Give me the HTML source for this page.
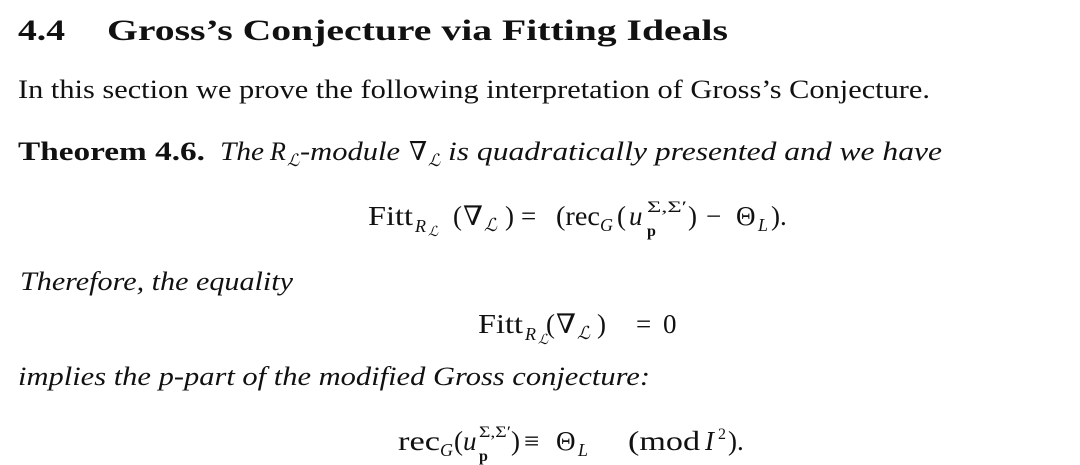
<!DOCTYPE html>
<html><head><meta charset="utf-8"><style>
html,body{margin:0;padding:0;background:#fff;}
svg{display:block;}
text{font-family:"Liberation Serif","DejaVu Serif",serif;fill:#111;}
.b{font-weight:bold;}
.i{font-style:italic;}
</style></head><body>
<svg width="1080" height="465" viewBox="0 0 1080 465" xmlns="http://www.w3.org/2000/svg">
<text x="18" y="40" class="b" font-size="30" textLength="47" lengthAdjust="spacingAndGlyphs">4.4</text>
<text x="107" y="40" class="b" font-size="30" textLength="621" lengthAdjust="spacingAndGlyphs">Gross’s Conjecture via Fitting Ideals</text>

<text x="18" y="98" font-size="26" textLength="912" lengthAdjust="spacingAndGlyphs">In this section we prove the following interpretation of Gross’s Conjecture.</text>

<text x="18" y="160" class="b" font-size="26" textLength="187" lengthAdjust="spacingAndGlyphs">Theorem 4.6.</text>
<text x="220" y="160" class="i" font-size="26" textLength="44" lengthAdjust="spacingAndGlyphs">The</text>
<text x="270" y="160" class="i" font-size="26">R</text>
<text x="287" y="166" class="i" font-size="17">ℒ</text>
<text x="300" y="160" class="i" font-size="26" textLength="100" lengthAdjust="spacingAndGlyphs">-module</text>
<text x="409" y="160" font-size="26">∇</text>
<text x="428" y="166" class="i" font-size="17">ℒ</text>
<text x="448" y="160" class="i" font-size="26" textLength="494" lengthAdjust="spacingAndGlyphs">is quadratically presented and we have</text>

<!-- formula 1 -->
<g font-size="27">
<text x="368" y="225" textLength="45" lengthAdjust="spacingAndGlyphs">Fitt</text>
<text x="415" y="232" class="i" font-size="18">R</text>
<text x="428" y="236" class="i" font-size="14">ℒ</text>
<text x="453" y="225">(</text>
<text x="463" y="225" textLength="20" lengthAdjust="spacingAndGlyphs">∇</text>
<text x="484" y="231" class="i" font-size="18">ℒ</text>
<text x="505" y="225">)</text>
<text x="521" y="225">=</text>
<text x="556" y="225" textLength="44" lengthAdjust="spacingAndGlyphs">(rec</text>
<text x="600" y="231" class="i" font-size="18">G</text>
<text x="617" y="225">(</text>
<text x="629" y="225" class="i">u</text>
<text x="647" y="212" font-size="16" textLength="40" lengthAdjust="spacingAndGlyphs">Σ,Σ′</text>
<text x="647" y="236" class="b" font-size="16">p</text>
<text x="688" y="225">)</text>
<text x="706" y="225">−</text>
<text x="736" y="225">Θ</text>
<text x="758" y="231" class="i" font-size="18">L</text>
<text x="771" y="225">).</text>
</g>

<text x="20" y="290" class="i" font-size="26" textLength="273" lengthAdjust="spacingAndGlyphs">Therefore, the equality</text>

<!-- formula 2 -->
<g font-size="27">
<text x="478" y="333" textLength="45" lengthAdjust="spacingAndGlyphs">Fitt</text>
<text x="525" y="340" class="i" font-size="18">R</text>
<text x="538" y="344" class="i" font-size="14">ℒ</text>
<text x="546" y="333">(</text>
<text x="556" y="333" textLength="20" lengthAdjust="spacingAndGlyphs">∇</text>
<text x="577" y="339" class="i" font-size="18">ℒ</text>
<text x="597" y="333">)</text>
<text x="636" y="333">=</text>
<text x="663" y="333">0</text>
</g>

<text x="18" y="385" class="i" font-size="26" textLength="632" lengthAdjust="spacingAndGlyphs">implies the p-part of the modified Gross conjecture:</text>

<!-- formula 3 -->
<g font-size="27">
<text x="398" y="450" textLength="42" lengthAdjust="spacingAndGlyphs">rec</text>
<text x="440" y="456" class="i" font-size="18">G</text>
<text x="454" y="450">(</text>
<text x="463" y="450" class="i">u</text>
<text x="479" y="437" font-size="16" textLength="32" lengthAdjust="spacingAndGlyphs">Σ,Σ′</text>
<text x="479" y="461" class="b" font-size="16">p</text>
<text x="511" y="450">)</text>
<text x="524" y="450">≡</text>
<text x="556" y="450">Θ</text>
<text x="578" y="456" class="i" font-size="18">L</text>
<text x="628" y="450" textLength="72" lengthAdjust="spacingAndGlyphs">(mod</text>
<text x="705" y="450" class="i">I</text>
<text x="718" y="439" font-size="16">2</text>
<text x="728" y="450">).</text>
</g>
</svg>
</body></html>
